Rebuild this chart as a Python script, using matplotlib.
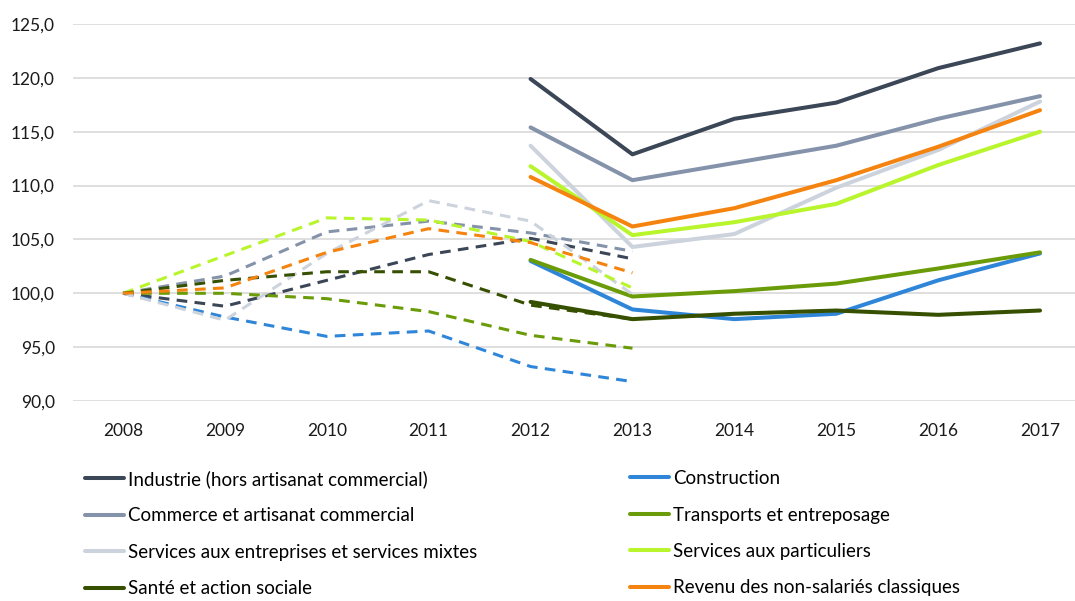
import matplotlib.pyplot as plt
from matplotlib.ticker import FuncFormatter

plt.rcParams['font.family'] = ['Lato', 'DejaVu Sans']

years = [2008, 2009, 2010, 2011, 2012, 2013, 2014, 2015, 2016, 2017]
oldYears = years[:6]   # ancienne série 2008-2013
newYears = years[4:]   # nouvelle série 2012-2017

labels = [
    "Industrie (hors artisanat commercial)",
    "Construction",
    "Commerce et artisanat commercial",
    "Transports et entreposage",
    "Services aux entreprises et services mixtes",
    "Services aux particuliers",
    "Santé et action sociale",
    "Revenu des non-salariés classiques",
]
colors = ["#3b4657", "#2f86d9", "#8492aa", "#6a9b08", "#ccd3dd", "#b8f52c", "#365000", "#f5830f"]

industrieOld = [100.0, 98.8, 101.2, 103.6, 105.1, 103.2]
industrieNew = [119.9, 112.9, 116.2, 117.7, 120.9, 123.2]
constructionOld = [100.0, 97.8, 96.0, 96.5, 93.2, 91.8]
constructionNew = [103.0, 98.5, 97.6, 98.1, 101.2, 103.7]
commerceOld = [100.0, 101.6, 105.7, 106.7, 105.6, 103.9]
commerceNew = [115.4, 110.5, 112.1, 113.7, 116.2, 118.3]
transportsOld = [100.0, 100.0, 99.5, 98.3, 96.1, 94.9]
transportsNew = [103.1, 99.7, 100.2, 100.9, 102.3, 103.8]
servEntOld = [100.0, 97.5, 103.7, 108.6, 106.7, 99.9]
servEntNew = [113.7, 104.3, 105.5, 109.8, 113.3, 117.8]
servPartOld = [100.0, 103.5, 107.0, 106.8, 104.8, 100.5]
servPartNew = [111.8, 105.4, 106.6, 108.3, 111.9, 115.0]
santeOld = [100.0, 101.2, 102.0, 102.0, 98.9, 97.6]
santeNew = [99.2, 97.6, 98.1, 98.4, 98.0, 98.4]
revenuOld = [100.0, 100.5, 103.8, 106.0, 104.7, 101.9]
revenuNew = [110.8, 106.2, 107.9, 110.5, 113.6, 117.0]

oldSeries = [industrieOld, constructionOld, commerceOld, transportsOld,
             servEntOld, servPartOld, santeOld, revenuOld]
newSeries = [industrieNew, constructionNew, commerceNew, transportsNew,
             servEntNew, servPartNew, santeNew, revenuNew]

fig = plt.figure(figsize=(10.75, 6.01), dpi=100)
ax = fig.add_axes([73 / 1075, 1 - 401 / 601, 1 - 73 / 1075, (401 - 24) / 601])

pos = {y: i for i, y in enumerate(years)}
handles = []
for old, new, col in zip(oldSeries, newSeries, colors):
    ax.plot([pos[y] for y in oldYears], old, color=col, lw=2.2, dashes=(3.5, 2.4))
    h, = ax.plot([pos[y] for y in newYears], new, color=col, lw=2.9, solid_capstyle='round')
    handles.append(h)

ax.set_ylim(90, 125)
ax.set_yticks(range(90, 126, 5))
ax.yaxis.set_major_formatter(FuncFormatter(lambda v, p: f"{v:.1f}".replace(".", ",")))
ax.set_xlim(-50 / 101.9, 9 + 35 / 101.9)
ax.set_xticks(range(len(years)))
ax.set_xticklabels([str(y) for y in years])
ax.grid(axis='y', color='#d9d9d9', lw=1.2)
ax.set_axisbelow(True)
for s in ax.spines.values():
    s.set_visible(False)
ax.tick_params(length=0, labelsize=12.5, colors='#1a1a1a')
ax.tick_params(axis='x', pad=16)
ax.tick_params(axis='y', pad=13)

legKw = dict(frameon=False, fontsize=13.5, handlelength=2.1, handletextpad=0.2,
             labelspacing=1.04, borderaxespad=0, borderpad=0)
fig.legend(handles[0::2], labels[0::2], loc='upper left',
           bbox_to_anchor=(85 / 1075, 1 - 470 / 601), **legKw)
fig.legend(handles[1::2], labels[1::2], loc='upper left',
           bbox_to_anchor=(630 / 1075, 1 - 470 / 601), **legKw)

fig.savefig("out.png", dpi=100)
